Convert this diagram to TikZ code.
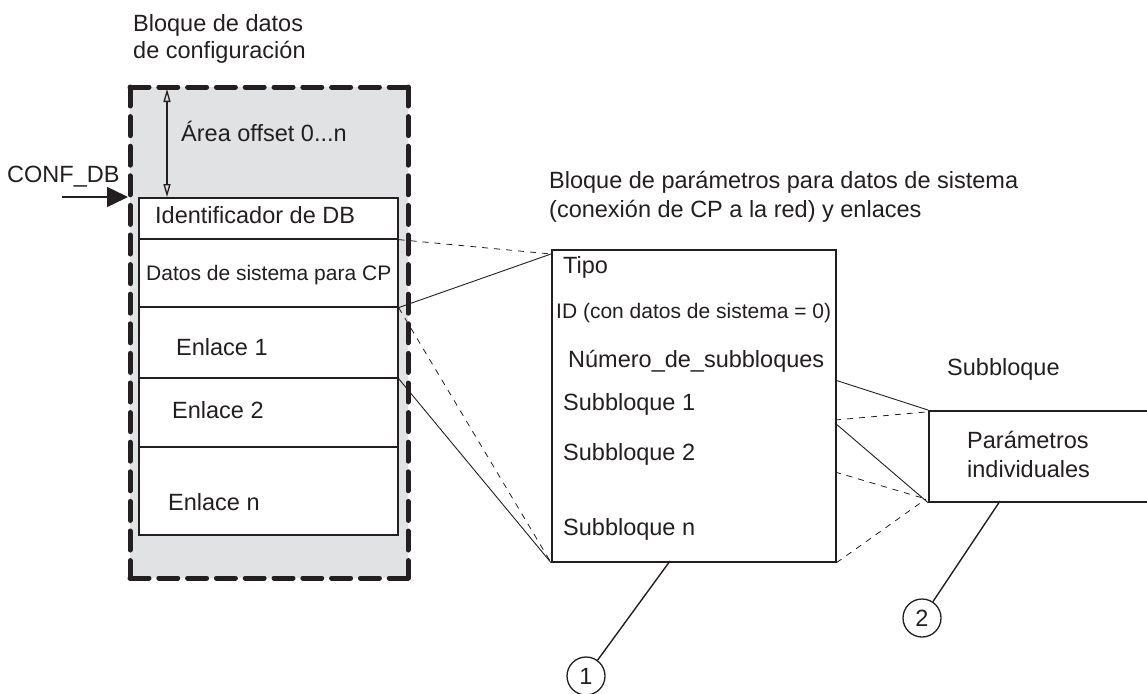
\documentclass[tikz,border=0pt]{standalone}
\usepackage{fontspec}
\setmainfont{Liberation Sans}
\usetikzlibrary{arrows.meta}
\definecolor{bggray}{RGB}{225,226,228}
\definecolor{ink}{RGB}{35,31,32}
\tikzset{
  lbl/.style={anchor=base west, inner sep=0pt, text=ink, font=\fontsize{23.5}{28}\selectfont},
  lblsm/.style={anchor=base west, inner sep=0pt, text=ink, font=\fontsize{21}{25}\selectfont},
  cell/.style={draw=ink, line width=1.6pt, fill=white, inner sep=0pt, anchor=north west},
  outerh/.style={draw=ink, line width=5pt, dash pattern=on 19pt off 9.8pt, line cap=round},
  outerv/.style={draw=ink, line width=5pt, dash pattern=on 19pt off 10.6pt, line cap=round},
  conn/.style={draw=ink, line width=0.9pt},
  connd/.style={draw=ink, line width=0.8pt, dash pattern=on 6pt off 6pt},
  leader/.style={draw=ink, line width=1.4pt},
  callout/.style={circle, draw=ink, line width=1.3pt, minimum size=38pt, inner sep=0pt, text=ink, font=\fontsize{23.5}{28}\selectfont},
}
\begin{document}
\begin{tikzpicture}[x=1pt,y=-1pt]
\useasboundingbox (0,0) rectangle (1147,693);
\clip (0,0) rectangle (1147,693);
% outer dashed block
\coordinate (otl) at (130,87);
\coordinate (otr) at (408,87);
\coordinate (obl) at (130,578);
\coordinate (obr) at (408,578);
\fill[bggray] (otl) rectangle (obr);
\path[outerh] (otl) -- (otr);
\path[outerh] (obl) -- (obr);
\path[outerv] (otl) -- (obl);
\path[outerv] (otr) -- (obr);
% cells
\node[cell, minimum width=259pt, minimum height=41pt] (idb) at (138,197) {};
\node[cell, minimum width=259pt, minimum height=68pt] (datos) at (138,238) {};
\node[cell, minimum width=259pt, minimum height=71pt] (enl1) at (138,306) {};
\node[cell, minimum width=259pt, minimum height=69pt] (enl2) at (138,377) {};
\node[cell, minimum width=259pt, minimum height=88pt] (enln) at (138,446) {};
\node[lbl] (tidb) at (155,223) {Identificador de DB};
\node[lblsm] (tdatos) at (146,280) {Datos de sistema para CP};
\node[lbl] (tenl1) at (176,355) {Enlace 1};
\node[lbl] (tenl2) at (172,418) {Enlace 2};
\node[lbl] (tenln) at (168,510) {Enlace n};
% titles
\node[lbl] (t1a) at (133,32) {Bloque de datos};
\node[lbl] (t1b) at (133,59) {de configuración};
\node[lbl] (area) at (181,141) {Área offset 0...n};
\node[lbl] (conf) at (7,182) {CONF\_DB};
\coordinate (confs) at (62,197);
\coordinate (confe) at (128,197);
\draw[draw=ink, line width=1.5pt, -{Triangle[length=21pt,width=20pt]}] (confs) -- (confe);
\coordinate (offt) at (167,89);
\draw[draw=ink, line width=1.3pt, {Triangle[open,length=13pt,width=7pt]}-{Triangle[open,length=13pt,width=7pt]}] (offt) -- (idb.north west -| offt);
% middle block
\node[cell, minimum width=284pt, minimum height=312pt] (mid) at (551,249) {};
\node[lbl] (t2a) at (549,188) {Bloque de parámetros para datos de sistema};
\node[lbl] (t2b) at (549,217) {(conexión de CP a la red) y enlaces};
\node[lbl] (tipo) at (563,273) {Tipo};
\node[lblsm] (tid) at (556,318) {ID (con datos de sistema = 0)};
\node[lbl] (tnum) at (568,367) {Número\_de\_subbloques};
\node[lbl] (ts1) at (563,410) {Subbloque 1};
\node[lbl] (ts2) at (563,460) {Subbloque 2};
\node[lbl] (tsn) at (563,535) {Subbloque n};
% right block
\node[cell, minimum width=260pt, minimum height=91pt] (rb) at (928,410) {};
\node[lbl] (t3) at (947,375) {Subbloque};
\node[lbl] (tpar1) at (967,448) {Parámetros};
\node[lbl] (tpar2) at (967,477) {individuales};
% connectors left -> middle
\coordinate (m1) at (551,254);
\path[connd] (idb.south east) -- (m1);
\path[conn] (datos.south east) -- (m1);
\path[connd] (datos.south east) -- (mid.south west);
\path[conn] (enl1.south east) -- (mid.south west);
% connectors middle -> right
\coordinate (r1) at (835,380);
\coordinate (r2) at (835,420);
\coordinate (r3) at (835,423);
\coordinate (r4) at (835,472);
\coordinate (rn) at (926,412);
\coordinate (rs) at (926,499);
\path[conn] (r1) -- (rb.north west);
\path[connd] (r2) -- (rn);
\path[conn] (r3) -- (rb.south west);
\path[connd] (r4) -- (rs);
\path[connd] (mid.south east) -- (rs);
% callouts
\node[callout] (c1) at (586,676) {1};
\node[callout] (c2) at (922,618) {2};
\coordinate (l1) at (670,561);
\coordinate (l2) at (1000,501);
\path[leader] (l1) -- (c1);
\path[leader] (l2) -- (c2);
\end{tikzpicture}
\end{document}
